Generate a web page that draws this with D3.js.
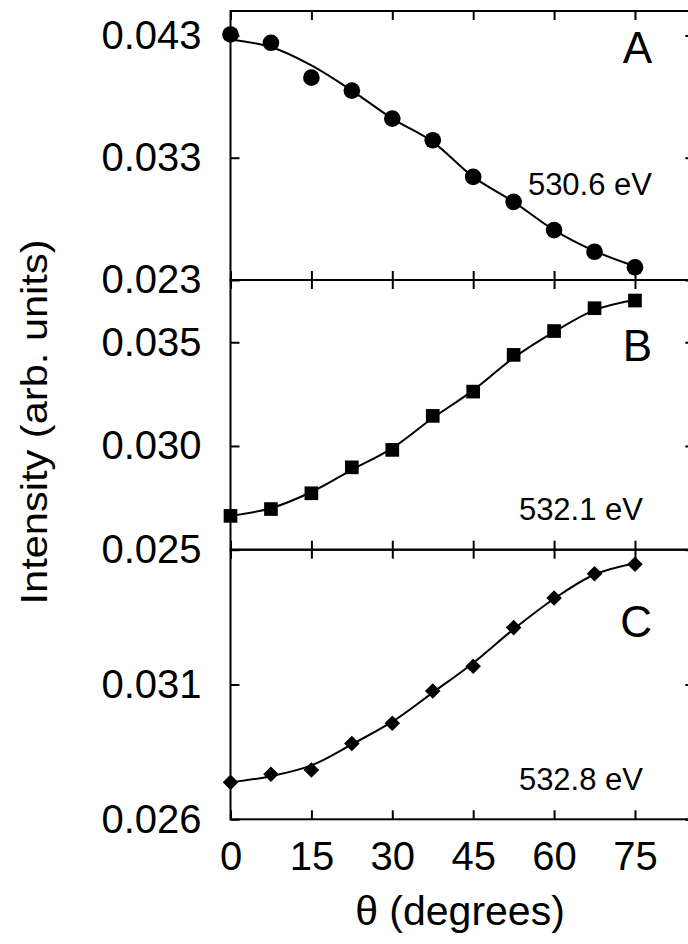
<!DOCTYPE html>
<html>
<head>
<meta charset="utf-8">
<script src="https://cdn.jsdelivr.net/npm/d3@7"></script>
<style>
  body { margin: 0; background: #fff; }
  text { font-family: "Liberation Sans", Arial, sans-serif; fill: #000; }
</style>
</head>
<body>
<div id="chart"></div>
<script>
// angles (degrees)
const theta = [0, 7.5, 15, 22.5, 30, 37.5, 45, 52.5, 60, 67.5, 75];

// panel A, 530.6 eV
const dataA = [0.04308, 0.04240, 0.03955, 0.03849, 0.03620, 0.03443, 0.03143, 0.02939, 0.02708, 0.02531, 0.02404];
const fitA  = [0.04267, 0.04205, 0.04055, 0.03849, 0.03620, 0.03430, 0.03143, 0.02939, 0.02708, 0.02537, 0.02412];
// panel B, 532.1 eV
const dataB = [0.02663, 0.02696, 0.02772, 0.02897, 0.02981, 0.03145, 0.03262, 0.03439, 0.03554, 0.03664, 0.03701];
const fitB  = [0.02663, 0.02700, 0.02778, 0.02885, 0.02990, 0.03135, 0.03268, 0.03425, 0.03550, 0.03655, 0.03705];
// panel C, 532.8 eV
const dataC = [0.02737, 0.02767, 0.02783, 0.02881, 0.02956, 0.03076, 0.03168, 0.03311, 0.03421, 0.03511, 0.03546];
const fitC  = [0.02737, 0.02760, 0.02800, 0.02878, 0.02962, 0.03070, 0.03180, 0.03305, 0.03418, 0.03508, 0.03550];

const xTicks = [0, 15, 30, 45, 60, 75];
const ticksA = [0.023, 0.033, 0.043];
const ticksB = [0.025, 0.030, 0.035];
const ticksC = [0.026, 0.031];

const W = 688, H = 944;
const left = 230.5, right = 694.3;

const svg = d3.select('#chart')
  .append('svg')
  .attr('width', W)
  .attr('height', H);

const x = d3.scaleLinear().domain([0, 86]).range([left, right]);

const panels = [
  { data: dataA, fit: fitA, ticks: ticksA, dom: [0.023, 0.045], top: 11, bot: 280, sym: d3.symbolCircle, size: 218, rot: 0,
    letter: 'A', letterY: 63, label: '530.6 eV', labelX: 652, labelY: 195 },
  { data: dataB, fit: fitB, ticks: ticksB, dom: [0.025, 0.038], top: 280, bot: 549.7, sym: d3.symbolSquare, size: 187, rot: 0,
    letter: 'B', letterY: 361, label: '532.1 eV', labelX: 643, labelY: 520 },
  { data: dataC, fit: fitC, ticks: ticksC, dom: [0.026, 0.036], top: 549.7, bot: 819.3, sym: d3.symbolSquare, size: 121, rot: 45,
    letter: 'C', letterY: 637, label: '532.8 eV', labelX: 643, labelY: 790 }
];

panels.forEach((p, i) => {
  const y = d3.scaleLinear().domain(p.dom).range([p.bot, p.top]);
  const g = svg.append('g');

  // fit line
  const line = d3.line()
    .x((d, j) => x(theta[j]))
    .y(d => y(d))
    .curve(d3.curveCatmullRom);
  g.append('path')
    .datum(p.fit)
    .attr('d', line)
    .attr('fill', 'none')
    .attr('stroke', '#000')
    .attr('stroke-width', 2);

  // points
  g.selectAll('.pt')
    .data(p.data)
    .enter()
    .append('path')
    .attr('d', d3.symbol().type(p.sym).size(p.size))
    .attr('transform', (d, j) => `translate(${x(theta[j])},${y(d)}) rotate(${p.rot})`)
    .attr('fill', '#000');

  // axes, inward ticks
  const yl = g.append('g').attr('transform', `translate(${left},0)`)
    .call(d3.axisLeft(y).tickValues(p.ticks).tickSize(-9).tickPadding(29).tickFormat(d3.format('.3f')));
  yl.selectAll('text').attr('font-size', 40).attr('font-family', '"Liberation Sans", Arial, sans-serif');

  g.append('g').attr('transform', `translate(${right},0)`)
    .call(d3.axisRight(y).tickValues(p.ticks).tickSize(-9).tickFormat(''));

  g.append('g').attr('transform', `translate(0,${p.top})`)
    .call(d3.axisTop(x).tickValues(xTicks).tickSize(-9).tickFormat(''));

  const xb = g.append('g').attr('transform', `translate(0,${p.bot})`)
    .call(d3.axisBottom(x).tickValues(xTicks).tickSize(-9).tickPadding(22)
      .tickFormat(i === 2 ? d3.format('d') : ''));
  xb.selectAll('text').attr('font-size', 40).attr('font-family', '"Liberation Sans", Arial, sans-serif');

  g.selectAll('.domain').remove();
  g.selectAll('.tick line').attr('stroke', '#000').attr('stroke-width', 2);

  // frame
  g.append('rect')
    .attr('x', left).attr('y', p.top)
    .attr('width', right - left).attr('height', p.bot - p.top)
    .attr('fill', 'none').attr('stroke', '#000').attr('stroke-width', 2);

  g.append('text')
    .attr('x', 652).attr('y', p.letterY)
    .attr('text-anchor', 'end')
    .attr('font-size', 44)
    .text(p.letter);

  g.append('text')
    .attr('x', p.labelX).attr('y', p.labelY)
    .attr('text-anchor', 'end')
    .attr('font-size', 31)
    .text(p.label);
});

// axis titles
svg.append('text')
  .attr('transform', 'translate(47,422) rotate(-90)')
  .attr('text-anchor', 'middle')
  .attr('font-size', 37)
  .attr('textLength', 365)
  .attr('lengthAdjust', 'spacingAndGlyphs')
  .text('Intensity (arb. units)');

svg.append('text')
  .attr('x', 460).attr('y', 925)
  .attr('text-anchor', 'middle')
  .attr('font-size', 41)
  .text('θ (degrees)');
</script>
</body>
</html>
